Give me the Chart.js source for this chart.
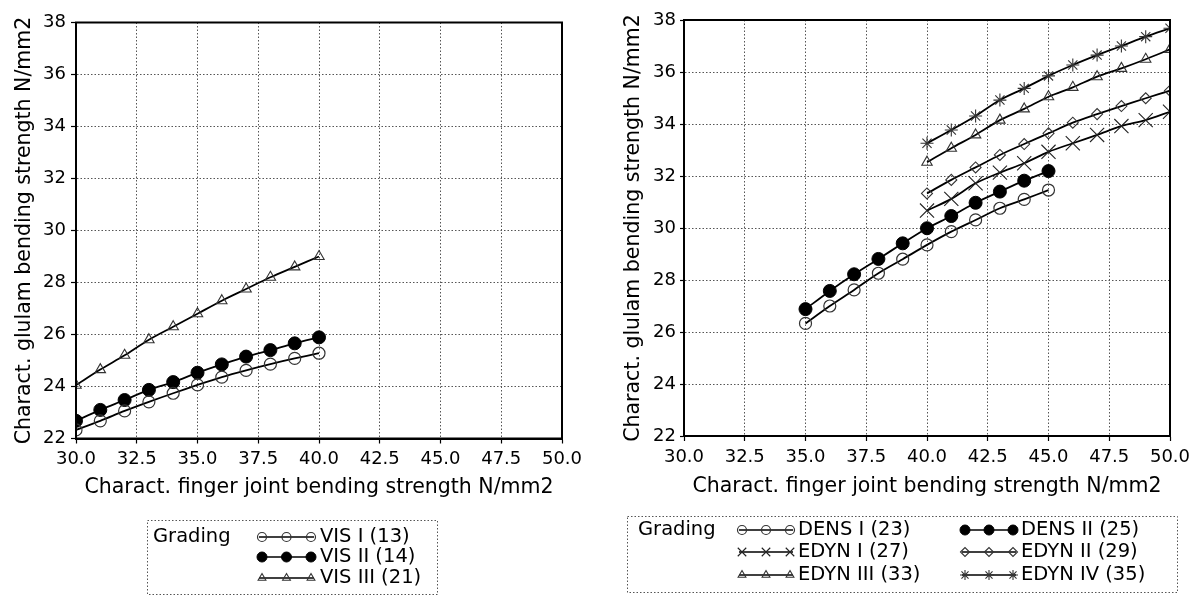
<!DOCTYPE html>
<html>
<head>
<meta charset="utf-8">
<script src="https://cdn.jsdelivr.net/npm/chart.js@4.4.0/dist/chart.umd.min.js"></script>
<style>
  html, body { margin: 0; padding: 0; background: #fff; }
  body { width: 1198px; height: 595px; position: relative; overflow: hidden; }
  canvas { position: absolute; top: 0; }
  #left { left: 0; }
  #right { left: 599px; }
</style>
</head>
<body>
<canvas id="left" width="599" height="595"></canvas>
<canvas id="right" width="599" height="595"></canvas>
<script>
// ---- data ----
const xTickValues = [30, 32.5, 35, 37.5, 40, 42.5, 45, 47.5, 50];
const xTickLabels = ['30.0', '32.5', '35.0', '37.5', '40.0', '42.5', '45.0', '47.5', '50.0'];
const yTickValues = [22, 24, 26, 28, 30, 32, 34, 36, 38];
const yTickLabels = ['22', '24', '26', '28', '30', '32', '34', '36', '38'];

const xTitle = 'Charact. finger joint bending strength N/mm2';
const yTitle = 'Charact. glulam bending strength N/mm2';
const legendTitle = 'Grading';

// visual grading (left panel)
const visX = [30, 31, 32, 33, 34, 35, 36, 37, 38, 39, 40];
const visI = [22.33, 22.68, 23.06, 23.41, 23.74, 24.06, 24.36, 24.62, 24.86, 25.08, 25.28];
const visII = [22.68, 23.1, 23.48, 23.87, 24.17, 24.53, 24.85, 25.15, 25.4, 25.66, 25.89];
const visIII = [24.05, 24.65, 25.2, 25.8, 26.3, 26.8, 27.3, 27.75, 28.2, 28.6, 29.0];

// machine grading (right panel)
const densX = [35, 36, 37, 38, 39, 40, 41, 42, 43, 44, 45];
const densI = [26.33, 27.0, 27.62, 28.26, 28.8, 29.35, 29.86, 30.31, 30.76, 31.1, 31.46];
const densII = [26.88, 27.58, 28.22, 28.81, 29.41, 29.99, 30.46, 30.97, 31.4, 31.82, 32.19];
const edynX = [40, 41, 42, 43, 44, 45, 46, 47, 48, 49, 50];
const edynI = [30.67, 31.12, 31.72, 32.13, 32.49, 32.93, 33.26, 33.58, 33.92, 34.15, 34.47];
const edynII = [31.33, 31.85, 32.33, 32.81, 33.23, 33.64, 34.05, 34.38, 34.69, 34.99, 35.28];
const edynIII = [32.53, 33.07, 33.58, 34.15, 34.58, 35.05, 35.41, 35.82, 36.14, 36.49, 36.87];
const edynIV = [33.26, 33.77, 34.31, 34.92, 35.37, 35.85, 36.27, 36.65, 37.0, 37.36, 37.68];

// ---- styling ----
const FONT = "'DejaVu Sans', 'Liberation Sans', sans-serif";
const INK = '#000';
const OPEN = 'rgba(0,0,0,0)';

const markers = {
  openCircle: { pointStyle: 'circle', radius: 6, legendRadius: 4.5, fill: OPEN, stroke: '#333', width: 1.2 },
  filledCircle: { pointStyle: 'circle', radius: 6.5, legendRadius: 5, fill: '#000', stroke: '#000', width: 1 },
  triangle: { pointStyle: 'triangle', radius: 6, legendRadius: 4.5, fill: OPEN, stroke: '#333', width: 1.1 },
  cross: { pointStyle: 'crossRot', radius: 10, legendRadius: 6, fill: OPEN, stroke: '#222', width: 1.1 },
  diamond: { pointStyle: 'rectRot', radius: 5.5, legendRadius: 4.5, fill: OPEN, stroke: '#333', width: 1.1 },
  star: { pointStyle: 'star', radius: 6.5, legendRadius: 5, fill: OPEN, stroke: '#333', width: 1.1 }
};

function series(label, xs, ys, m) {
  return {
    label: label,
    data: xs.map((x, i) => ({ x: x, y: ys[i] })),
    borderColor: '#000',
    borderWidth: 1.8,
    tension: 0.3,
    fill: false,
    pointStyle: m.pointStyle,
    pointRadius: m.radius,
    pointBackgroundColor: m.fill,
    pointBorderColor: m.stroke,
    pointBorderWidth: m.width,
    marker: m
  };
}

// frame around the plot area plus the boxed "Grading" key
const frameAndKey = {
  id: 'frameAndKey',
  afterDraw(chart, args, opts) {
    const ctx = chart.ctx;
    const a = chart.chartArea;
    ctx.save();
    ctx.setLineDash([]);
    ctx.strokeStyle = '#000';
    ctx.lineWidth = 2;
    ctx.strokeRect(a.left, a.top, a.right - a.left, a.bottom - a.top);

    const k = opts.key;
    ctx.lineWidth = 1;
    ctx.strokeStyle = '#555';
    ctx.setLineDash([1.5, 2]);
    ctx.strokeRect(k.box[0] + 0.5, k.box[1] + 0.5, k.box[2], k.box[3]);
    ctx.setLineDash([]);

    ctx.font = k.fontSize + 'px ' + FONT;
    ctx.fillStyle = INK;
    ctx.textBaseline = 'middle';
    ctx.textAlign = 'left';
    ctx.fillText(legendTitle, k.titleX, k.rows[0]);

    k.items.forEach(it => {
      const ds = chart.data.datasets[it.ds];
      const m = ds.marker;
      const y = k.rows[it.row];
      const sx = k.cols[it.col];
      ctx.strokeStyle = '#000';
      ctx.lineWidth = 1.5;
      ctx.beginPath();
      ctx.moveTo(sx - 3, y);
      ctx.lineTo(sx + k.gap * 2 + 3, y);
      ctx.stroke();
      for (let j = 0; j < 3; j++) {
        ctx.fillStyle = m.fill;
        ctx.strokeStyle = m.stroke;
        ctx.lineWidth = m.width;
        Chart.helpers.drawPoint(ctx, { pointStyle: m.pointStyle, rotation: 0, radius: m.legendRadius, borderWidth: m.width }, sx + j * k.gap, y);
      }
      ctx.fillStyle = INK;
      ctx.fillText(ds.label, sx + k.gap * 2 + k.textGap, y);
    });
    ctx.restore();
  }
};

function makeChart(id, datasets, L) {
  return new Chart(document.getElementById(id), {
    type: 'line',
    data: { datasets: datasets },
    plugins: [frameAndKey],
    options: {
      responsive: false,
      animation: false,
      devicePixelRatio: 1,
      layout: { padding: { left: 0, right: L.padRight, top: L.padTop, bottom: L.padBottom } },
      plugins: {
        legend: { display: false },
        tooltip: { enabled: false },
        frameAndKey: { key: L.key }
      },
      scales: {
        x: {
          type: 'linear',
          min: 30, max: 50,
          afterBuildTicks: s => { s.ticks = xTickValues.map(v => ({ value: v })); },
          afterFit: s => { s.height = L.xHeight; },
          ticks: {
            color: INK,
            font: { family: FONT, size: 18 },
            padding: L.xTickPad,
            maxRotation: 0,
            callback: (v, i) => xTickLabels[i]
          },
          grid: { color: '#555', lineWidth: 1, drawTicks: true, tickLength: 5, tickColor: '#000', tickWidth: 1.2, tickBorderDash: [] },
          border: { display: true, color: '#000', width: 2, dash: [1.5, 2] },
          title: { display: true, text: xTitle, color: INK, font: { family: FONT, size: 20.5 }, padding: { top: 0, bottom: 0 } }
        },
        y: {
          type: 'linear',
          min: 22, max: 38,
          afterBuildTicks: s => { s.ticks = yTickValues.map(v => ({ value: v })); },
          afterFit: s => { s.width = L.yWidth; },
          ticks: {
            color: INK,
            font: { family: FONT, size: 18 },
            padding: L.yTickPad,
            callback: (v, i) => yTickLabels[i]
          },
          grid: { color: '#555', lineWidth: 1, drawTicks: true, tickLength: L.yTickLen, tickColor: '#000', tickWidth: 1.2, tickBorderDash: [] },
          border: { display: true, color: '#000', width: 2, dash: [1.5, 2] },
          title: { display: true, text: yTitle, color: INK, font: { family: FONT, size: 20.5 }, padding: { top: L.yTitlePad, bottom: 0 } }
        }
      }
    }
  });
}

makeChart('left', [
  series('VIS I (13)', visX, visI, markers.openCircle),
  series('VIS II (14)', visX, visII, markers.filledCircle),
  series('VIS III (21)', visX, visIII, markers.triangle)
], {
  padRight: 37, padTop: 22.5, padBottom: 95, xHeight: 61.5, yWidth: 76,
  xTickPad: 5, yTickPad: 5, yTickLen: 5, yTitlePad: 12,
  key: {
    box: [147, 520, 290, 74], fontSize: 19.5, titleX: 153,
    rows: [537, 557, 578], cols: [262], gap: 24.5, textGap: 9,
    items: [{ ds: 0, col: 0, row: 0 }, { ds: 1, col: 0, row: 1 }, { ds: 2, col: 0, row: 2 }]
  }
});

makeChart('right', [
  series('DENS I (23)', densX, densI, markers.openCircle),
  series('DENS II (25)', densX, densII, markers.filledCircle),
  series('EDYN I (27)', edynX, edynI, markers.cross),
  series('EDYN II (29)', edynX, edynII, markers.diamond),
  series('EDYN III (33)', edynX, edynIII, markers.triangle),
  series('EDYN IV (35)', edynX, edynIV, markers.star)
], {
  padRight: 28, padTop: 20, padBottom: 96, xHeight: 63, yWidth: 85,
  xTickPad: 6, yTickPad: 4, yTickLen: 4, yTitlePad: 22,
  key: {
    box: [28, 516, 550, 76], fontSize: 19.5, titleX: 39,
    rows: [530, 552, 575], cols: [143, 366], gap: 24, textGap: 8,
    items: [
      { ds: 0, col: 0, row: 0 }, { ds: 2, col: 0, row: 1 }, { ds: 4, col: 0, row: 2 },
      { ds: 1, col: 1, row: 0 }, { ds: 3, col: 1, row: 1 }, { ds: 5, col: 1, row: 2 }
    ]
  }
});
</script>
</body>
</html>
